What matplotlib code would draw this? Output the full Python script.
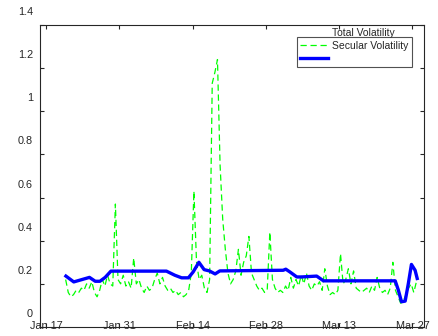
import numpy as np
import matplotlib
matplotlib.use("Agg")
import matplotlib.pyplot as plt
from matplotlib.transforms import ScaledTranslation

# x axis: days counted from Jan 17 (leap year)
tick_days = [0, 14, 28, 42, 56, 70]
tick_labels = ['Jan 17', 'Jan 31', 'Feb 14', 'Feb 28', 'Mar 13', 'Mar 27']
y_ticks = [0, 0.2, 0.4, 0.6, 0.8, 1.0, 1.2, 1.4]
y_labels = ['0', '0.2', '0.4', '0.6', '0.8', '1', '1.2', '1.4']

# total volatility (green dashed), one value every half day from day 3.75
total_start = 3.75
total_step = 0.5
total_vol = [
    0.22, 0.16, 0.14, 0.15, 0.17, 0.16, 0.18, 0.17, 0.20, 0.18,
    0.21, 0.16, 0.14, 0.17, 0.22, 0.19, 0.24, 0.20, 0.19, 0.57,
    0.22, 0.20, 0.24, 0.19, 0.21, 0.18, 0.32, 0.20, 0.22, 0.18,
    0.16, 0.19, 0.17, 0.18, 0.22, 0.25, 0.20, 0.23, 0.19, 0.17,
    0.18, 0.16, 0.17, 0.15, 0.16, 0.14, 0.15, 0.17, 0.25, 0.63,
    0.30, 0.22, 0.24, 0.18, 0.16, 0.22, 1.13, 1.18, 1.24, 0.75,
    0.50, 0.36, 0.25, 0.20, 0.22, 0.26, 0.36, 0.24, 0.30, 0.33,
    0.42, 0.25, 0.22, 0.19, 0.17, 0.18, 0.16, 0.17, 0.44, 0.22,
    0.18, 0.16, 0.17, 0.16, 0.19, 0.17, 0.23, 0.18, 0.22, 0.19,
    0.24, 0.20, 0.25, 0.19, 0.17, 0.20, 0.19, 0.21, 0.17, 0.27,
    0.19, 0.15, 0.16, 0.15, 0.17, 0.34, 0.20, 0.22, 0.27, 0.20,
    0.26, 0.18, 0.17, 0.16, 0.17, 0.18, 0.16, 0.19, 0.17, 0.23,
    0.18, 0.16, 0.17, 0.15, 0.18, 0.30, 0.17, 0.14, 0.11, 0.12,
    0.15, 0.18, 0.20, 0.16, 0.21,
]

# secular volatility (blue), breakpoints
secular_days = [3.8, 5.3, 8.3, 9.4, 10.3, 11.3, 12.4, 23.0, 24.6, 25.9,
                27.2, 28.1, 29.2, 30.2, 31.2, 32.3, 33.2, 45.3, 45.8, 46.6,
                47.9, 48.8, 51.7, 53.0, 66.7, 67.3, 67.9, 68.6, 69.2, 69.8,
                70.5, 70.9]
secular_vol = [0.236, 0.209, 0.230, 0.212, 0.212, 0.230, 0.259, 0.259, 0.240, 0.228,
               0.228, 0.255, 0.300, 0.266, 0.260, 0.246, 0.260, 0.263, 0.268, 0.255,
               0.232, 0.232, 0.236, 0.214, 0.214, 0.171, 0.117, 0.120, 0.200, 0.290,
               0.263, 0.225]

text_color = '#262626'
plt.rcParams['font.family'] = ['Liberation Sans', 'DejaVu Sans']
plt.rcParams['font.size'] = 7.8

fig = plt.figure(figsize=(4.39, 3.36), dpi=100)
ax = fig.add_axes([40 / 439, 9 / 336, 384 / 439, 302 / 336])

total_days = total_start + total_step * np.arange(len(total_vol))
ax.plot(total_days, total_vol, color='#00ff00', lw=0.9, linestyle=(0, (5, 3)),
        label='Secular Volatility')
ax.plot(secular_days, secular_vol, color='#0000ff', lw=2.4, label=' ')

ax.set_xlim(-1.15, 72.2)
ax.set_ylim(0, 1.4)
ax.set_xticks(tick_days)
ax.set_xticklabels(tick_labels)
ax.set_yticks(y_ticks)
ax.set_yticklabels(y_labels)

ax.tick_params(direction='in', length=3, width=0.8, colors=text_color,
               top=True, right=True, labelsize=7.8)
ax.tick_params(axis='x', pad=-4.6)
ax.tick_params(axis='y', pad=5)
for spine in ax.spines.values():
    spine.set_color(text_color)
    spine.set_linewidth(0.8)

# tick labels sit shifted upwards in the original
for lab in ax.get_yticklabels():
    lab.set_transform(lab.get_transform() + ScaledTranslation(0, 0.14, fig.dpi_scale_trans))

leg = ax.legend(loc='upper right', bbox_to_anchor=(0.969, 0.960), borderaxespad=0,
                frameon=True, fancybox=False, edgecolor=text_color,
                handlelength=2.7, handletextpad=0.35, labelspacing=0.3,
                borderpad=0.35, fontsize=7.5)
leg.get_frame().set_linewidth(0.8)
for t in leg.get_texts():
    t.set_color(text_color)

ax.text(0.841, 0.974, 'Total Volatility', transform=ax.transAxes,
        ha='center', va='center', fontsize=7.5, color=text_color)

fig.savefig('out.png', dpi=100)
